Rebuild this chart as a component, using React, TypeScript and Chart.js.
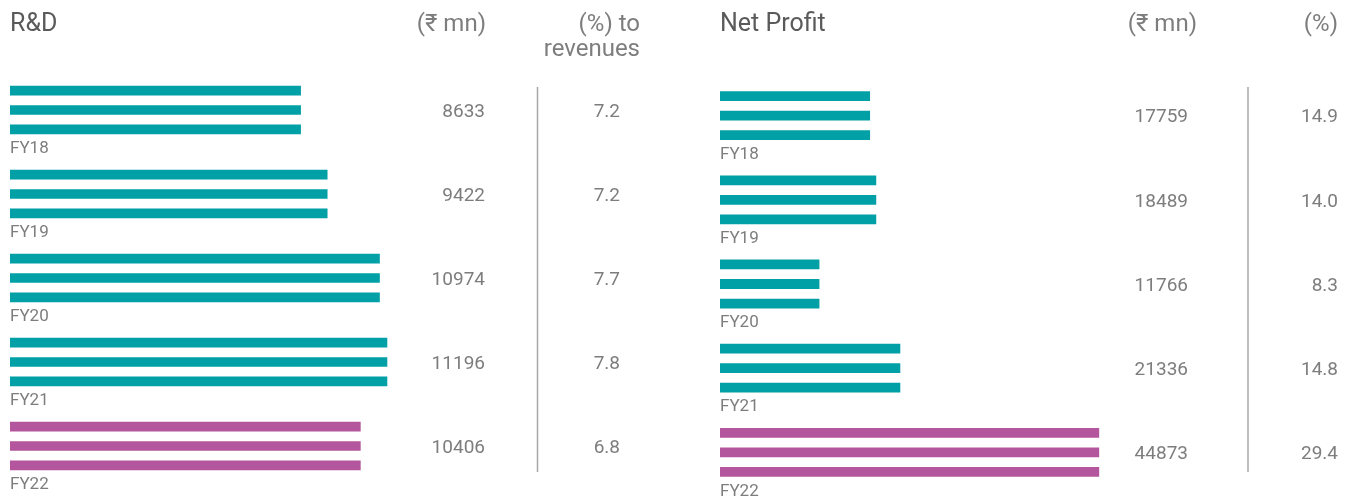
import React, { useEffect, useRef } from 'react';
import { Chart, registerables } from 'chart.js';

Chart.register(...registerables);

// ---- data ----
const years = ['FY18', 'FY19', 'FY20', 'FY21', 'FY22'];
const highlightYear = 'FY22';
const rdValues = [8633, 9422, 10974, 11196, 10406];
const rdPercent = ['7.2', '7.2', '7.7', '7.8', '6.8'];
const npValues = [17759, 18489, 11766, 21336, 44873];
const npPercent = ['14.9', '14.0', '8.3', '14.8', '29.4'];

// ---- styles ----
const TEAL = '#00a0a6';
const MAGENTA = '#b3569d';
const FONT = "Roboto, 'DejaVu Sans', sans-serif";
const TITLE_COLOR = '#5a5a5a';
const TEXT_COLOR = '#7d7d7d';
const LINE_COLOR = '#a8a8a8';

type PanelSpec = {
  left: number;
  width: number;
  values: number[];
  percents: string[];
  title: string;
  unitHead: string;
  pctHead: string[];
  xMax: number;
  padTop: number;
  padBottom: number;
  padLeft: number;
  padRight: number;
  valueRight: number;
  pctRight: number;
  unitHeadRight: number;
  pctHeadRight: number;
  dividerX: number;
};

const panels: PanelSpec[] = [
  {
    left: 0,
    width: 680,
    values: rdValues,
    percents: rdPercent,
    title: 'R&D',
    unitHead: '(₹ mn)',
    pctHead: ['(%) to', 'revenues'],
    xMax: 12000,
    padTop: 68,
    padBottom: 10,
    padLeft: 10,
    padRight: 680 - 10 - 0.0337 * 12000,
    valueRight: 485,
    pctRight: 620,
    unitHeadRight: 486,
    pctHeadRight: 640,
    dividerX: 537.5,
  },
  {
    left: 680,
    width: 675,
    values: npValues,
    percents: npPercent,
    title: 'Net Profit',
    unitHead: '(₹ mn)',
    pctHead: ['(%)'],
    xMax: 50000,
    padTop: 73.5,
    padBottom: 3.5,
    padLeft: 40,
    padRight: 675 - 40 - 0.00845 * 50000,
    valueRight: 1188 - 680,
    pctRight: 1338 - 680,
    unitHeadRight: 1197 - 680,
    pctHeadRight: 1338 - 680,
    dividerX: 1248 - 680,
  },
];

function Panel({ spec }: { spec: PanelSpec }) {
  const ref = useRef<HTMLCanvasElement | null>(null);

  useEffect(() => {
    if (!ref.current) return;
    const colors = years.map((y) => (y === highlightYear ? MAGENTA : TEAL));
    const stripe = (label: string) => ({
      label,
      data: spec.values,
      backgroundColor: colors,
      borderWidth: 0,
      categoryPercentage: 0.696,
      barPercentage: 0.5,
    });

    const textPlugin = {
      id: 'panelText',
      afterDraw(chart: any) {
        const ctx = chart.ctx;
        const yScale = chart.scales.y;
        ctx.save();
        // headers
        ctx.textBaseline = 'alphabetic';
        ctx.fillStyle = TITLE_COLOR;
        ctx.font = `normal 25px ${FONT}`;
        ctx.textAlign = 'left';
        ctx.fillText(spec.title, spec.padLeft, 31);
        ctx.fillStyle = TEXT_COLOR;
        ctx.font = `normal 24px ${FONT}`;
        ctx.textAlign = 'right';
        ctx.fillText(spec.unitHead, spec.unitHeadRight, 31);
        spec.pctHead.forEach((line, i) => {
          ctx.fillText(line, spec.pctHeadRight, 31 + i * 25);
        });
        // divider
        ctx.strokeStyle = LINE_COLOR;
        ctx.lineWidth = 1.5;
        ctx.beginPath();
        ctx.moveTo(spec.dividerX, 87);
        ctx.lineTo(spec.dividerX, 472);
        ctx.stroke();
        // rows
        years.forEach((yr, i) => {
          const cy = yScale.getPixelForValue(i);
          ctx.fillStyle = TEXT_COLOR;
          ctx.font = `normal 19px ${FONT}`;
          ctx.textBaseline = 'middle';
          ctx.textAlign = 'right';
          ctx.fillText(String(spec.values[i]), spec.valueRight, cy + 2);
          ctx.fillText(spec.percents[i], spec.pctRight, cy + 2);
          ctx.textAlign = 'left';
          ctx.font = `normal 17px ${FONT}`;
          ctx.fillText(yr, spec.padLeft, cy + 39);
        });
        ctx.restore();
      },
    };

    const chart = new Chart(ref.current, {
      type: 'bar',
      data: {
        labels: years,
        datasets: [stripe('a'), stripe('b'), stripe('c')],
      },
      options: {
        indexAxis: 'y',
        animation: false,
        responsive: false,
        maintainAspectRatio: false,
        layout: {
          padding: {
            top: spec.padTop,
            bottom: spec.padBottom,
            left: spec.padLeft,
            right: spec.padRight,
          },
        },
        plugins: {
          legend: { display: false },
          tooltip: { enabled: false },
        },
        scales: {
          x: { display: false, min: 0, max: spec.xMax },
          y: { display: false, type: 'category' },
        },
      },
      plugins: [textPlugin],
    } as any);

    return () => chart.destroy();
  }, [spec]);

  return (
    <canvas
      ref={ref}
      width={spec.width}
      height={498}
      style={{ position: 'absolute', left: spec.left, top: 0, display: 'block' }}
    />
  );
}

export default function App() {
  useEffect(() => {
    document.body.style.margin = '0';
  }, []);
  return (
    <div style={{ position: 'relative', width: 1355, height: 498, background: '#fff' }}>
      {panels.map((p) => (
        <Panel key={p.title} spec={p} />
      ))}
    </div>
  );
}
